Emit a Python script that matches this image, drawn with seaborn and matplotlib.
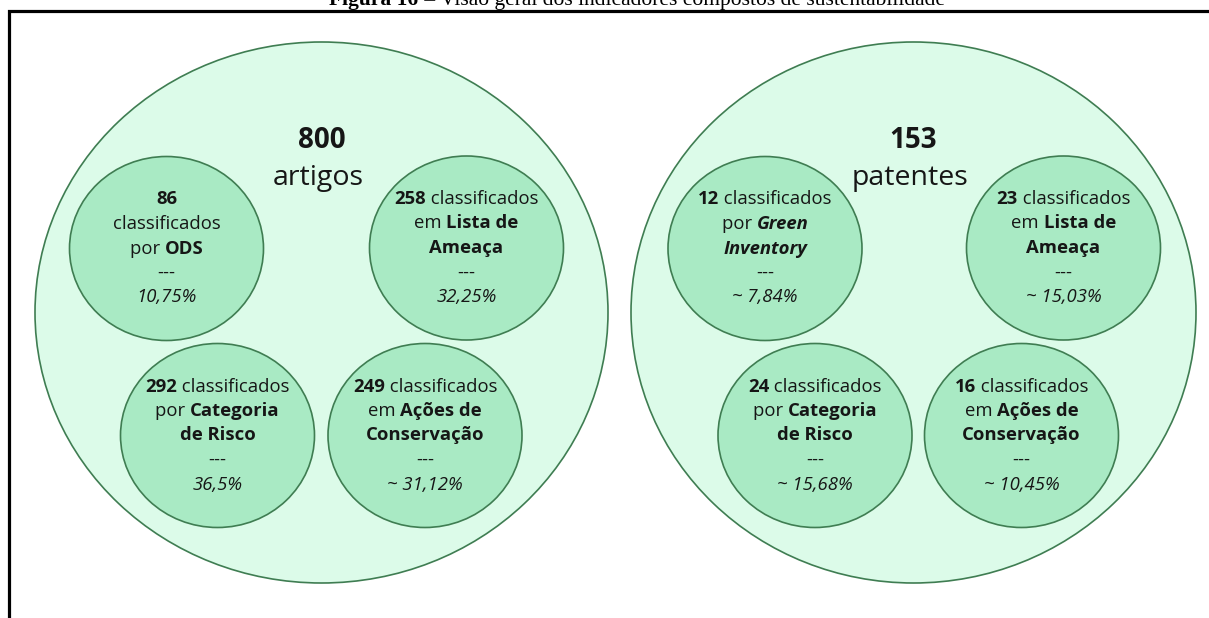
import seaborn as sns
import matplotlib.pyplot as plt
from matplotlib.patches import Ellipse

# Totais e contagens por indicador
groups = ["artigos", "patentes"]
totals = [800, 153]
artigos_counts = [86, 258, 292, 249]
patentes_counts = [12, 23, 24, 16]
artigos_pct = ["10,75%", "32,25%", "36,5%", "~ 31,12%"]
patentes_pct = ["~ 7,84%", "~ 15,03%", "~ 15,68%", "~ 10,45%"]
artigos_criteria = ["ODS", "Lista de Ameaça", "Categoria de Risco", "Ações de Conservação"]
patentes_criteria = ["Green Inventory", "Lista de Ameaça", "Categoria de Risco", "Ações de Conservação"]

title_bold = "Figura 16"
title_rest = " – Visão geral dos indicadores compostos de sustentabilidade"

# line breaking of each criterion (segments: text, weight, style)
def criterion_lines(n, crit):
    N = (str(n), "bold", "normal")
    if crit == "ODS":
        return [[N], [("classificados", "normal", "normal")],
                [("por ", "normal", "normal"), ("ODS", "bold", "normal")]]
    if crit == "Green Inventory":
        return [[N, (" classificados", "normal", "normal")],
                [("por ", "normal", "normal"), ("Green", "bold", "italic")],
                [("Inventory", "bold", "italic")]]
    if crit == "Lista de Ameaça":
        return [[N, (" classificados", "normal", "normal")],
                [("em ", "normal", "normal"), ("Lista de", "bold", "normal")],
                [("Ameaça", "bold", "normal")]]
    if crit == "Categoria de Risco":
        return [[N, (" classificados", "normal", "normal")],
                [("por ", "normal", "normal"), ("Categoria", "bold", "normal")],
                [("de Risco", "bold", "normal")]]
    return [[N, (" classificados", "normal", "normal")],
            [("em ", "normal", "normal"), ("Ações de", "bold", "normal")],
            [("Conservação", "bold", "normal")]]

# layout (pixels)
big_centers = [(321.5, 312.5), (913.5, 312.5)]
big_size = [(573, 541), (565, 541)]
small_centers = [
    [(166.5, 248.5), (466.5, 248.0), (217.5, 435.5), (425.0, 435.5)],
    [(765.0, 248.5), (1063.5, 248.0), (815.0, 435.5), (1021.5, 435.5)],
]
small_size = (194, 184)

light_fill = "#dcfbe9"
mid_fill = "#a9eac4"
edge = "#3f7d52"
ink = "#161616"

sns.set_theme(style="white")
plt.rcParams["font.family"] = ["Open Sans", "DejaVu Sans"]

fig = plt.figure(figsize=(12.09, 6.18), dpi=100)
ax = fig.add_axes([0, 0, 1, 1])
ax.set_xlim(0, 1209)
ax.set_ylim(618, 0)
ax.axis("off")

renderer = fig.canvas.get_renderer()


def rich_line(x, y, segments, size, color=ink, family=None):
    texts = []
    for txt, weight, style in segments:
        kw = dict(fontsize=size, fontweight=weight, fontstyle=style, color=color,
                  va="center", ha="left")
        if family:
            kw["family"] = family
        texts.append(ax.text(0, y, txt, **kw))
    widths = [t.get_window_extent(renderer).width for t in texts]
    start = x - sum(widths) / 2
    for t, w in zip(texts, widths):
        t.set_x(start)
        start += w
    return texts


# border box and caption
ax.plot([8.5, 8.5, 1215], [625, 10.5, 10.5], color="black", lw=2.3, solid_capstyle="butt",
        solid_joinstyle="miter", clip_on=False)
cap = rich_line(637, 0, [(title_bold, "bold", "normal"), (title_rest, "normal", "normal")], 15.5,
                color="black", family=["Liberation Serif"])
for t in cap:
    t.set_va("baseline")
    t.set_y(5.5)

counts = [artigos_counts, patentes_counts]
pcts = [artigos_pct, patentes_pct]
crits = [artigos_criteria, patentes_criteria]

for g in range(2):
    cx, cy = big_centers[g]
    ax.add_patch(Ellipse((cx, cy), big_size[g][0], big_size[g][1], facecolor=light_fill,
                         edgecolor=edge, lw=1.2))
    ax.text(cx, 141, str(totals[g]), fontsize=20, fontweight="bold", color=ink, ha="center", va="center")
    ax.text(cx - 3, 178, groups[g], fontsize=20.5, color=ink, ha="center", va="center")
    for i in range(4):
        sx, sy = small_centers[g][i]
        ax.add_patch(Ellipse((sx, sy), small_size[0], small_size[1], facecolor=mid_fill,
                             edgecolor=edge, lw=1.2))
        lines = criterion_lines(counts[g][i], crits[g][i])
        lines = lines + [[("---", "normal", "normal")], [(pcts[g][i], "normal", "italic")]]
        step = 24.5
        y0 = sy - step * 2
        for k, seg in enumerate(lines):
            rich_line(sx, y0 + k * step, seg, 13.3)

fig.savefig("out.png", dpi=100, facecolor="white")
